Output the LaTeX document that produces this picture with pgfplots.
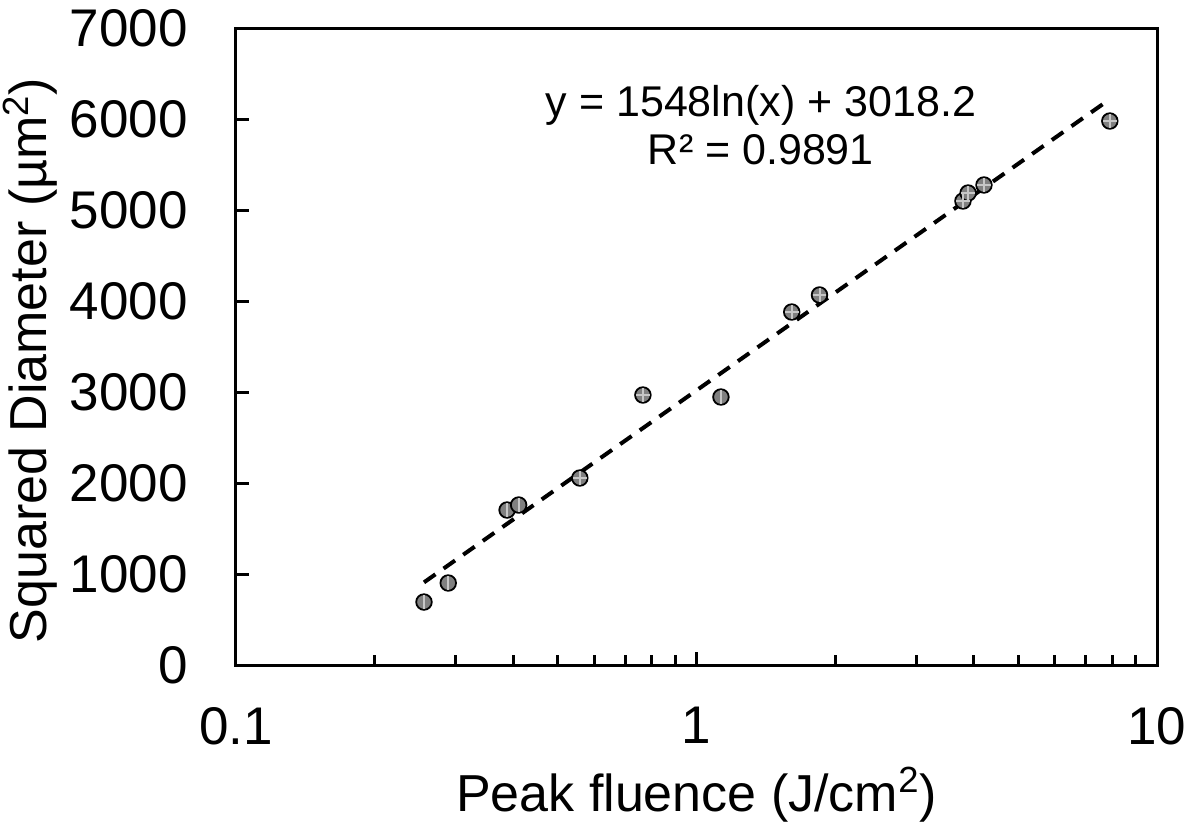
\documentclass[border=0pt]{standalone}
\usepackage{pgfplots}
\pgfplotsset{compat=1.18}
\usepackage{fontspec}
\setmainfont{Liberation Sans}
\begin{document}
\begin{tikzpicture}
\useasboundingbox (-118pt,-80.5pt) rectangle (479.5pt,332.5pt);
\begin{axis}[
  at={(0pt,0pt)}, anchor=south west,
  scale only axis, width=460.5pt, height=318.5pt,
  xmode=log, xmin=0.1, xmax=10, ymin=0, ymax=7000,
  ytick={0,1000,...,7000},
  xtick={0.1,1,10},
  xticklabels={0.1,1,10},
  scaled y ticks=false,
  /pgf/number format/assume math mode=true,
  y tick label style={/pgf/number format/set thousands separator={}},
  tick align=inside,
  xtick pos=bottom, ytick pos=left,
  major tick length=6.5pt, minor tick length=5pt,
  axis line style={line width=1.5pt},
  every tick/.style={black, line width=1.5pt},
  tick label style={font=\fontsize{26.5}{30}\selectfont},
  yticklabel style={inner sep=0pt, anchor=east, xshift=-24pt},
  xticklabel style={inner sep=0pt, anchor=north, yshift=-21pt},
  xlabel={Peak fluence (J/cm\textsuperscript{2})},
  ylabel={Squared Diameter (µm\textsuperscript{2})},
  label style={font=\fontsize{26}{30}\selectfont},
  xlabel style={at={(axis description cs:0.5,0)}, anchor=base, inner sep=0pt, yshift=-73pt},
  ylabel style={at={(axis description cs:0,0.478)}, anchor=south, inner sep=0pt, yshift=89pt},
  clip=false,
]
\addplot[black, line width=2pt, dash pattern=on 7pt off 5pt] coordinates {(0.256,908.1) (7.9,6217.7)};
\addplot[only marks, mark=*, mark size=3.9pt, mark options={fill=black!50, draw=black, line width=0.9pt}]
  coordinates {
  (0.256,692) (0.289,901) (0.388,1703) (0.411,1758) (0.558,2055)
  (0.765,2967) (1.13,2945) (1.61,3879) (1.85,4066) (3.79,5099)
  (3.89,5187) (4.21,5275) (7.90,5978)
  };
% error bars (short, lighter grey, drawn over the markers)
\addplot[only marks, mark=|, mark size=3.4pt, mark options={draw=black!22, line width=1pt}]
  coordinates {(0.256,692) (0.289,901) (0.388,1703) (0.411,1758) (1.13,2945)};
\addplot[only marks, mark=+, mark size=3.4pt, mark options={draw=black!22, line width=1pt}]
  coordinates {(0.558,2055) (0.765,2967) (1.61,3879) (1.85,4066) (3.79,5099)
  (3.89,5187) (4.21,5275) (7.90,5978)};
\node[align=center, font=\fontsize{21.5}{24}\selectfont] at (axis cs:1.38,5930) {y = 1548ln(x) + 3018.2\\R² = 0.9891};
\end{axis}
\end{tikzpicture}
\end{document}
